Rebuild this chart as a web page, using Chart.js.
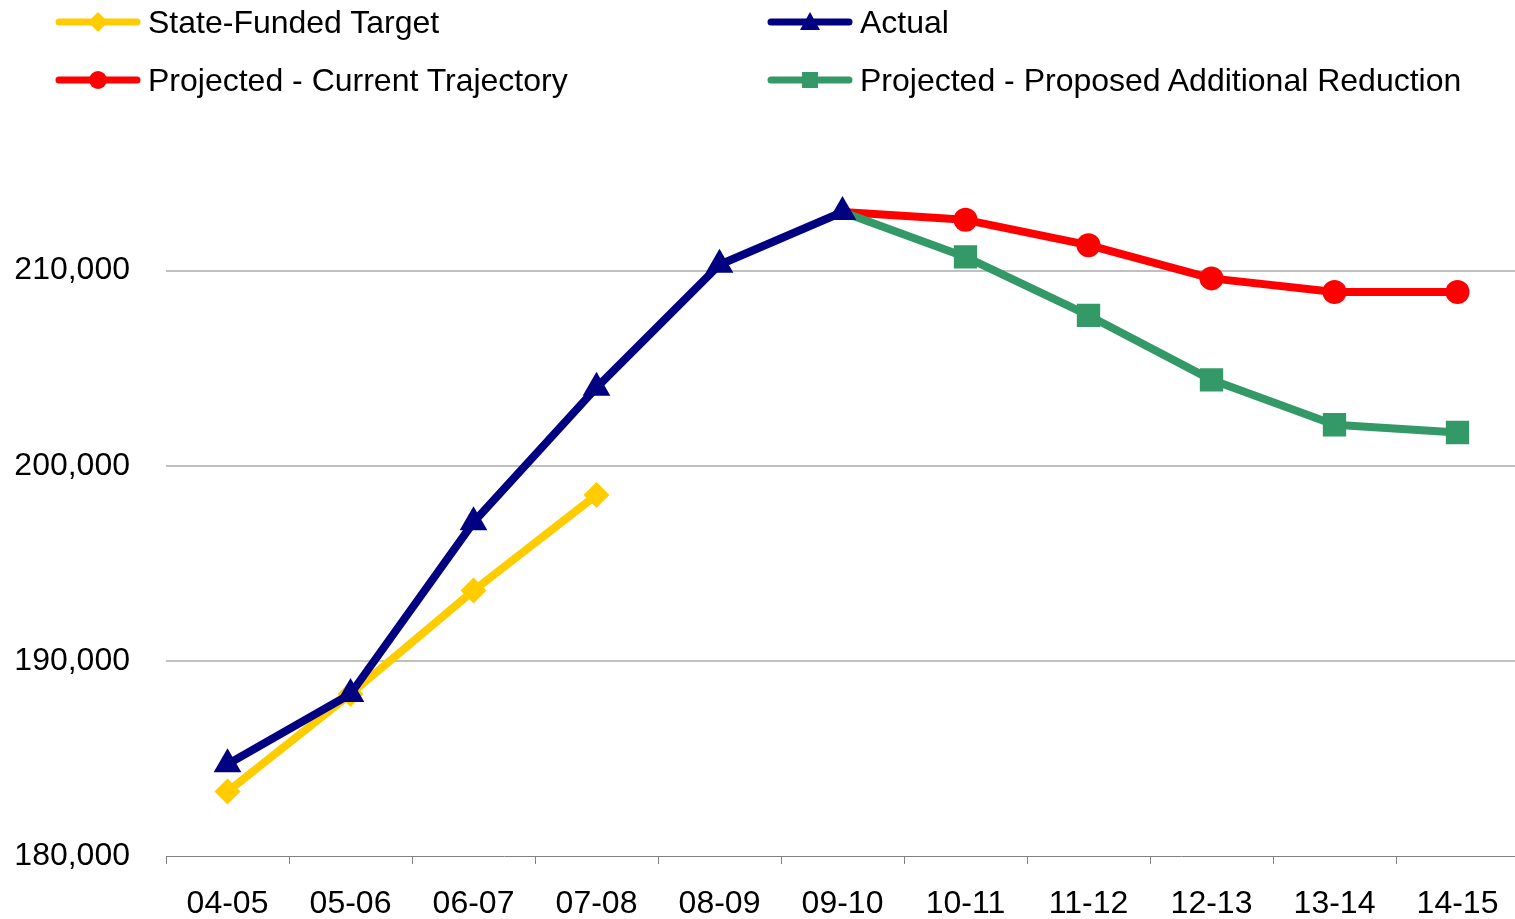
<!DOCTYPE html>
<html>
<head>
<meta charset="utf-8">
<script src="https://cdn.jsdelivr.net/npm/chart.js@4.4.1/dist/chart.umd.min.js"></script>
<style>
  body { margin: 0; background: #fff; font-family: "Liberation Sans", Arial, sans-serif; overflow: hidden; }
  .wrap { position: relative; width: 1515px; height: 919px; overflow: hidden; }
  canvas { display: block; }
  .legend { position: absolute; top: 0; left: 0; width: 1515px; height: 110px; }
  .legend-item { position: absolute; display: flex; align-items: center; height: 40px; font-size: 32px; color: #000; white-space: nowrap; }
  .legend-item svg { margin-right: 7px; }
</style>
</head>
<body>
<div class="wrap">
  <canvas id="enrollment-chart" width="1519" height="919"></canvas>
  <div class="legend" id="enrollment-legend"></div>
</div>
<script>
var categories = ['04-05', '05-06', '06-07', '07-08', '08-09', '09-10', '10-11', '11-12', '12-13', '13-14', '14-15'];

var stateFundedTarget = [183300, 188300, 193600, 198500, null, null, null, null, null, null, null];
var actual = [184700, 188300, 197100, 204000, 210300, 213000, null, null, null, null, null];
var currentTrajectory = [null, null, null, null, null, 213000, 212600, 211300, 209600, 208900, 208900];
var proposedReduction = [null, null, null, null, null, 213000, 210700, 207700, 204400, 202100, 201700];

var yTicks = [180000, 190000, 200000, 210000];

var FONT = '"Liberation Sans", Arial, sans-serif';

// no marker on the shared 09-10 starting point of the projections
var hideStart = function (r) {
    return function (ctx) { return ctx.dataIndex === 5 ? 0 : r; };
};

var datasets = [
    {
        label: 'State-Funded Target',
        data: stateFundedTarget,
        borderColor: '#FFCC00',
        backgroundColor: '#FFCC00',
        pointStyle: 'rectRot',
        pointRadius: 13,
        order: 3
    },
    {
        label: 'Actual',
        data: actual,
        borderColor: '#000080',
        backgroundColor: '#000080',
        pointStyle: 'triangle',
        pointRadius: 16,
        order: 0
    },
    {
        label: 'Projected - Current Trajectory',
        data: currentTrajectory,
        borderColor: '#FF0000',
        backgroundColor: '#FF0000',
        pointStyle: 'circle',
        pointRadius: hideStart(12),
        order: 2
    },
    {
        label: 'Projected - Proposed Additional Reduction',
        data: proposedReduction,
        borderColor: '#339966',
        backgroundColor: '#339966',
        pointStyle: 'rect',
        pointRadius: hideStart(16.5),
        order: 1
    }
];

datasets.forEach(function (d) {
    d.borderWidth = 8;
    d.pointBorderWidth = 0;
    d.pointHoverRadius = d.pointRadius;
    d.borderJoinStyle = 'round';
    d.tension = 0;
    d.spanGaps = false;
});

// legend: two columns, built from the dataset list
var legendSlots = [
    { left: 55, top: 2 },
    { left: 767, top: 2 },
    { left: 55, top: 60 },
    { left: 767, top: 60 }
];
var legendEl = document.getElementById('enrollment-legend');
datasets.forEach(function (d, i) {
    var c = d.borderColor;
    var marker;
    if (d.pointStyle === 'rectRot') {
        marker = '<polygon points="43,1 53,11 43,21 33,11" fill="' + c + '"/>';
    } else if (d.pointStyle === 'triangle') {
        marker = '<polygon points="43,1 53,19 33,19" fill="' + c + '"/>';
    } else if (d.pointStyle === 'circle') {
        marker = '<circle cx="43" cy="11" r="9" fill="' + c + '"/>';
    } else {
        marker = '<rect x="35" y="3" width="16" height="16" fill="' + c + '"/>';
    }
    var item = document.createElement('div');
    item.className = 'legend-item';
    item.style.left = legendSlots[i].left + 'px';
    item.style.top = legendSlots[i].top + 'px';
    item.innerHTML =
        '<svg width="86" height="22" viewBox="0 0 86 22">' +
        '<line x1="4" y1="11" x2="82" y2="11" stroke="' + c + '" stroke-width="7" stroke-linecap="round"/>' +
        marker + '</svg><span>' + d.label + '</span>';
    legendEl.appendChild(item);
});

var ctx = document.getElementById('enrollment-chart').getContext('2d');
new Chart(ctx, {
    type: 'line',
    data: { labels: categories, datasets: datasets },
    options: {
        responsive: false,
        animation: false,
        layout: { autoPadding: false, padding: { top: 173, right: 0, bottom: 0, left: 0 } },
        plugins: {
            legend: { display: false },
            tooltip: { enabled: false }
        },
        scales: {
            x: {
                offset: true,
                afterFit: function (scale) {
                    scale.height = 63;
                    scale.paddingLeft = 0;
                    scale.paddingRight = 0;
                },
                grid: {
                    offset: true,
                    drawOnChartArea: false,
                    drawTicks: true,
                    tickLength: 8,
                    color: '#808080',
                    lineWidth: 1
                },
                border: { display: true, color: '#808080', width: 1 },
                ticks: {
                    color: '#000',
                    padding: 21,
                    maxRotation: 0,
                    autoSkip: false,
                    font: { family: FONT, size: 32 }
                }
            },
            y: {
                min: 180000,
                max: 215000,
                afterBuildTicks: function (scale) {
                    scale.ticks = yTicks.map(function (v) { return { value: v }; });
                },
                afterFit: function (scale) {
                    scale.width = 166;
                    scale.paddingTop = 0;
                    scale.paddingBottom = 0;
                },
                grid: {
                    drawTicks: false,
                    color: function (c) { return c.tick && c.tick.value === 180000 ? 'rgba(0,0,0,0)' : '#C0C0C0'; },
                    lineWidth: 2
                },
                border: { display: false },
                ticks: {
                    color: '#000',
                    padding: 36,
                    font: { family: FONT, size: 32 },
                    callback: function (v) { return v.toLocaleString('en-US'); }
                }
            }
        }
    }
});
</script>
</body>
</html>
